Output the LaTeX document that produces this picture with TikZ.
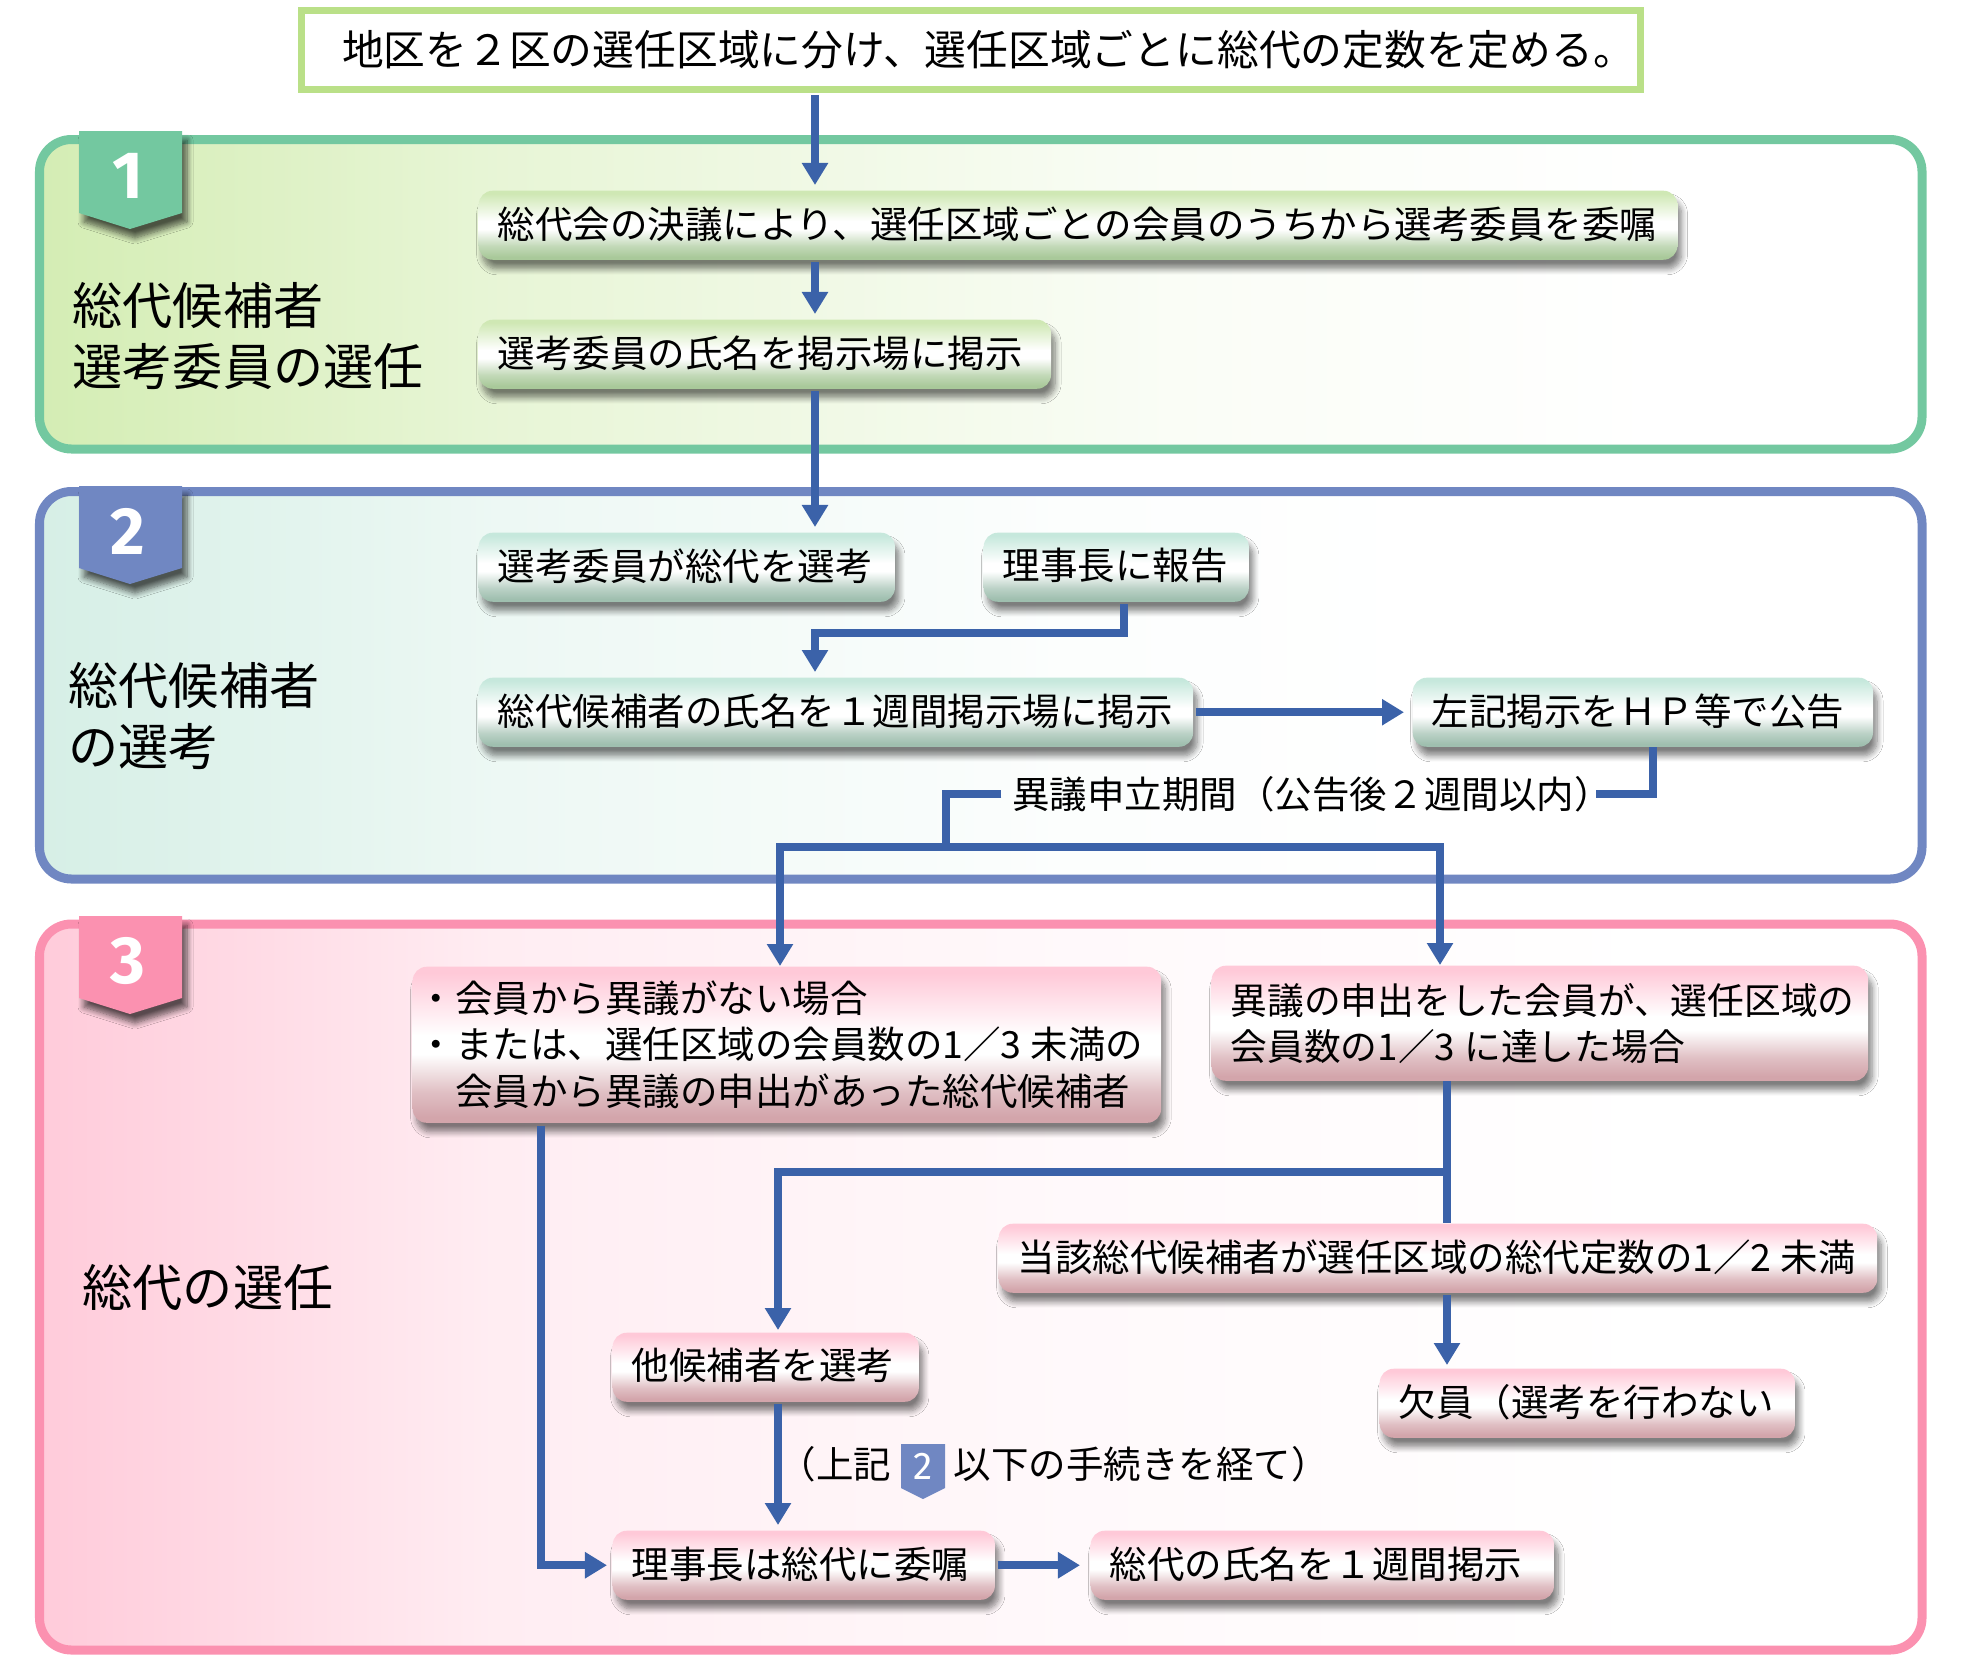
\documentclass[tikz,border=0pt]{standalone}
\usepackage{fontspec}
\setmainfont{Noto Sans CJK JP}
\newfontfamily\digitfont{Fira Sans}
\usetikzlibrary{arrows.meta, shadows.blur, calc}

\definecolor{arrowcol}{HTML}{3B62A9}
\definecolor{topcol}{HTML}{BAE088}
\definecolor{onecol}{HTML}{73C8A0}
\definecolor{twocol}{HTML}{7087C2}
\definecolor{threecol}{HTML}{FB91B0}
\definecolor{onefill}{HTML}{D4EDB4}
\definecolor{twofill}{HTML}{D6EFE6}
\definecolor{threefill}{HTML}{FFCBDA}
\definecolor{greenhi}{HTML}{CFE8B4}
\definecolor{greenlo}{HTML}{A9C99A}
\definecolor{tealhi}{HTML}{C6E8DC}
\definecolor{teallo}{HTML}{9FBFAF}
\definecolor{pinkhi}{HTML}{FFC9D8}
\definecolor{pinklo}{HTML}{D3A5AB}

\pgfdeclareverticalshading{greenbar}{100bp}{color(0bp)=(greenlo); color(27bp)=(greenlo); color(35bp)=(greenlo!70!white); color(47bp)=(white); color(53bp)=(white); color(73bp)=(greenhi); color(100bp)=(greenhi)}
\pgfdeclareverticalshading{tealbar}{100bp}{color(0bp)=(teallo); color(27bp)=(teallo); color(35bp)=(teallo!70!white); color(47bp)=(white); color(53bp)=(white); color(73bp)=(tealhi); color(100bp)=(tealhi)}
\pgfdeclareverticalshading{pinkbar}{100bp}{color(0bp)=(pinklo); color(27bp)=(pinklo); color(35bp)=(pinklo!70!white); color(47bp)=(white); color(53bp)=(white); color(73bp)=(pinkhi); color(100bp)=(pinkhi)}

\pgfdeclarehorizontalshading{onewash}{100bp}{color(0bp)=(onefill); color(25bp)=(onefill); color(37bp)=(onefill!55!white); color(55bp)=(onefill!12!white); color(68bp)=(white); color(100bp)=(white)}
\pgfdeclarehorizontalshading{twowash}{100bp}{color(0bp)=(twofill); color(25bp)=(twofill); color(37bp)=(twofill!45!white); color(52bp)=(twofill!8!white); color(62bp)=(white); color(100bp)=(white)}
\pgfdeclarehorizontalshading{threewash}{100bp}{color(0bp)=(threefill); color(25bp)=(threefill); color(37bp)=(threefill!35!white); color(52bp)=(threefill!12!white); color(68bp)=(white); color(100bp)=(white)}

\newcommand{\bartext}{\fontsize{10.66}{13.1}\selectfont}

\begin{document}
\begin{tikzpicture}[
		x=0.01cm, y=-0.01cm,
		panel/.style={
			rounded corners=0.32cm, line width=0.09cm, draw=#1
		},
		bar/.style={
			anchor=north west, rounded corners=0.14cm, shading=#1, shading angle=0,
			inner sep=0pt, align=left, font=\bartext,
			blur shadow={shadow xshift=0.04cm, shadow yshift=-0.09cm, shadow blur steps=8, shadow blur radius=0.06cm, shadow opacity=50}
		},
		oneline/.style={
			bar=#1, text depth=0.06cm
		},
		title/.style={
			anchor=west, inner sep=0pt, align=left,
			font=\fontsize{14.25}{17.6}\selectfont
		},
		plain/.style={
			inner sep=0pt, font=\bartext
		},
		flow/.style={
			draw=arrowcol, line width=0.08cm,
			-{Triangle[width=0.25cm,length=0.22cm]},
			shorten >=0.05cm, shorten <=0.02cm
		},
		link/.style={
			draw=arrowcol, line width=0.08cm
		}
		]
		
		\useasboundingbox (0,0) rectangle (1964,1678);
		
		% panels
		\draw[panel=onecol, shading=onewash, shading angle=0] (39.5,139.5) rectangle (1922,449);
		\draw[panel=twocol, shading=twowash, shading angle=0] (39.5,491.5) rectangle (1922,879);
		\draw[panel=threecol, shading=threewash, shading angle=0] (39.5,924) rectangle (1922,1650);
		
		% badges
		\foreach \num/\ytop/\col in {1/131/onecol, 2/486/twocol, 3/916/threecol}{
			\fill[\col, blur shadow={shadow xshift=0.05cm, shadow yshift=-0.09cm, shadow blur steps=8, shadow blur radius=0.06cm, shadow opacity=65}]
				(79,\ytop) -- (182,\ytop) -- (182,\ytop+82) -- (130,\ytop+98) -- (79,\ytop+82) -- cycle;
			\node[text=white, font=\digitfont\fontsize{19}{19}\selectfont\bfseries] (badge\num) at (128,\ytop+45) {\num};
		}
		
		% titles
		\node[title] (titleone) at (72,336) {総代候補者\\選考委員の選任};
		\node[title] (titletwo) at (68,716) {総代候補者\\の選考};
		\node[title] (titlethree) at (82,1287) {総代の選任};
		
		% top box
		\node[draw=topcol, line width=0.07cm, fill=white, inner sep=0pt, minimum width=13.385cm, minimum height=0.79cm, font=\fontsize{11.88}{14}\selectfont] (top) at (971,50) {\hspace*{0.35cm}地区を２区の選任区域に分け、選任区域ごとに総代の定数を定める。};
		
		% panel 1 boxes
		\node[oneline=greenbar, minimum width=11.98cm, minimum height=0.69cm, text width=11.60cm, inner xsep=0.19cm] (vote) at (478,190) {総代会の決議により、選任区域ごとの会員のうちから選考委員を委嘱};
		\node[oneline=greenbar, minimum width=5.72cm, minimum height=0.69cm, text width=5.34cm, inner xsep=0.19cm] (post) at (478,319) {選考委員の氏名を掲示場に掲示};
		
		% panel 2 boxes
		\node[oneline=tealbar, minimum width=4.16cm, minimum height=0.69cm, text width=3.78cm, inner xsep=0.19cm] (select) at (478,532) {選考委員が総代を選考};
		\node[oneline=tealbar, minimum width=2.65cm, minimum height=0.69cm, text width=2.27cm, inner xsep=0.19cm] (report) at (983,532) {理事長に報告};
		\node[oneline=tealbar, minimum width=7.14cm, minimum height=0.69cm, text width=6.76cm, inner xsep=0.19cm] (names) at (478,677) {総代候補者の氏名を１週間掲示場に掲示};
		\node[oneline=tealbar, minimum width=4.60cm, minimum height=0.69cm, text width=4.22cm, inner xsep=0.19cm] (notice) at (1412,677) {左記掲示をＨＰ等で公告};
		\node[plain] (period) at (1312,794) {異議申立期間（公告後２週間以内）};
		
		% panel 3 boxes
		\node[bar=pinkbar, minimum width=7.48cm, minimum height=1.56cm, text width=7.38cm, inner xsep=0.05cm] (none) at (412,966) {・会員から異議がない場合\\・または、選任区域の会員数の1／3\hspace{0.09cm}未満の\\　会員から異議の申出があった総代候補者};
		\node[bar=pinkbar, minimum width=6.56cm, minimum height=1.15cm, text width=6.18cm, inner xsep=0.19cm, font=\fontsize{10.45}{13.1}\selectfont] (third) at (1211,965) {異議の申出をした会員が、選任区域の\\会員数の1／3\hspace{0.09cm}に達した場合};
		\node[oneline=pinkbar, minimum width=8.78cm, minimum height=0.69cm, text width=8.40cm, inner xsep=0.19cm] (half) at (998,1223) {当該総代候補者が選任区域の総代定数の1／2\hspace{0.09cm}未満};
		\node[oneline=pinkbar, minimum width=3.06cm, minimum height=0.69cm, text width=2.68cm, inner xsep=0.19cm] (other) at (612,1332) {他候補者を選考};
		\node[oneline=pinkbar, minimum width=4.15cm, minimum height=0.69cm, text width=3.77cm, inner xsep=0.19cm] (vacant) at (1379,1368) {欠員（選考を行わない};
		\node[oneline=pinkbar, minimum width=3.82cm, minimum height=0.69cm, text width=3.44cm, inner xsep=0.19cm] (appoint) at (612,1530) {理事長は総代に委嘱};
		\node[oneline=pinkbar, minimum width=4.63cm, minimum height=0.69cm, text width=4.25cm, inner xsep=0.19cm] (final) at (1090,1530) {総代の氏名を１週間掲示};
		
		% remark with the small badge
		\node[plain, anchor=east] (remarkl) at (892,1464) {（上記};
		\fill[twocol] (901,1444) -- (945,1444) -- (945,1488) -- (923,1499) -- (901,1488) -- cycle;
		\node[text=white, font=\digitfont\fontsize{11}{11}\selectfont] (badgesmall) at (923,1466) {2};
		\node[plain, anchor=west] (remarkr) at (953,1464) {以下の手続きを経て）};
		
		% turning points
		\coordinate (trunk) at (815,0);
		\coordinate (bend) at (1124,633);
		\coordinate (backr) at (1653,0);
		\coordinate (backl) at (946,0);
		\coordinate (fork) at (946,847);
		\coordinate (forkl) at (780,847);
		\coordinate (forkr) at (1440,847);
		\coordinate (leftline) at (541,0);
		\coordinate (drop) at (1447,1172);
		\coordinate (dropl) at (778,1172);
		
		% connectors
		\draw[flow] (top.south -| trunk) -- (vote.north -| trunk);
		\draw[flow] (vote.south -| trunk) -- (post.north -| trunk);
		\draw[flow] (post.south -| trunk) -- (select.north -| trunk);
		\draw[flow] (report.south -| bend) -- (bend) -- (bend -| trunk) -- (names.north -| trunk);
		\draw[flow, shorten >=0.08cm] (names.east) -- (notice.west);
		\draw[link, shorten >=-0.17cm] (notice.south -| backr) |- (period.east);
		\draw[link, shorten <=0.10cm] (period.west) -- (period.west -| backl) -- (fork);
		\draw[flow, shorten >=0pt, shorten <=-0.04cm] (forkl) -- (forkl |- none.north);
		\draw[flow, shorten >=0pt, shorten <=-0.04cm] (forkl) -- (forkr) -- (forkr |- third.north);
		\draw[flow] (none.south -| leftline) |- (appoint.west);
		\draw[link] (third.south -| drop) -- (drop);
		\draw[link] (drop) -- (half.north -| drop);
		\draw[flow, shorten >=0.02cm] (drop) -- (dropl) -- (other.north -| dropl);
		\draw[flow, shorten >=0.03cm] (half.south -| drop) -- (vacant.north -| drop);
		\draw[flow] (other.south -| dropl) -- (appoint.north -| dropl);
		\draw[flow, shorten >=0.10cm] (appoint.east) -- (final.west);
		
	\end{tikzpicture}
\end{document}
